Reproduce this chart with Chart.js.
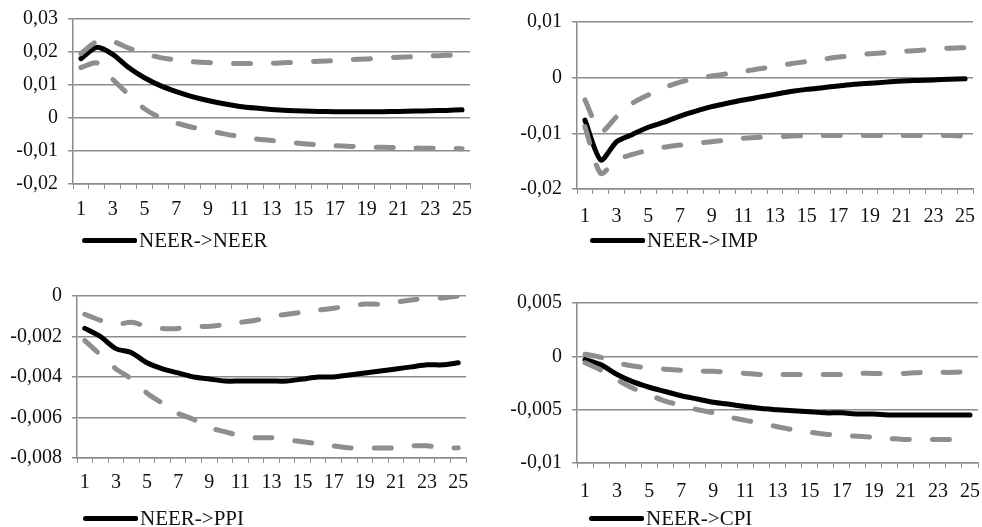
<!DOCTYPE html>
<html>
<head>
<meta charset="utf-8">
<script src="https://cdn.jsdelivr.net/npm/chart.js@4.4.1/dist/chart.umd.min.js"></script>
<style>
  html, body { margin: 0; padding: 0; background: #ffffff; }
  #wrap { position: relative; width: 982px; height: 527px; overflow: hidden; background: #fff; }
  canvas { position: absolute; }
  .leg { position: absolute; display: flex; align-items: center; height: 24px;
         font-family: 'Liberation Serif', 'Times New Roman', serif; font-size: 21px; color: #111; white-space: nowrap; }
  .leg .ln { width: 55px; height: 5px; background: #000; border-radius: 3px 2px 2px 3px; margin-right: 2px; }
</style>
</head>
<body>
<div id="wrap">
  <canvas id="c1" width="491" height="230" style="left:0px;top:0px"></canvas>
  <canvas id="c2" width="491" height="235" style="left:491px;top:0px"></canvas>
  <canvas id="c3" width="491" height="245" style="left:0px;top:262px"></canvas>
  <canvas id="c4" width="491" height="245" style="left:491px;top:262px"></canvas>
  <div class="leg" style="left:82px;top:228px"><div class="ln"></div><span id="l1"></span></div>
  <div class="leg" style="left:590px;top:228px"><div class="ln"></div><span id="l2"></span></div>
  <div class="leg" style="left:83px;top:506px"><div class="ln"></div><span id="l3"></span></div>
  <div class="leg" style="left:589px;top:506px"><div class="ln"></div><span id="l4"></span></div>
</div>
<script>
// ---------- data ----------
const categories = ['1','2','3','4','5','6','7','8','9','10','11','12','13','14','15','16','17','18','19','20','21','22','23','24','25'];

const seriesNames = ['NEER->NEER', 'NEER->IMP', 'NEER->PPI', 'NEER->CPI'];

// NEER -> NEER
const neerMain  = [0.0180,0.0214,0.0193,0.0153,0.0122,0.0098,0.0080,0.0065,0.0053,0.0043,0.0035,0.0030,0.0026,0.0023,0.0021,0.0020,0.0019,0.0019,0.0019,0.0019,0.0020,0.0021,0.0022,0.0023,0.0025];
const neerUpper = [0.0195,0.0232,0.0232,0.0212,0.0195,0.0183,0.0176,0.0171,0.0168,0.0166,0.0165,0.0165,0.0166,0.0168,0.0170,0.0172,0.0174,0.0177,0.0179,0.0182,0.0184,0.0186,0.0188,0.0190,0.0192];
const neerLower = [0.0153,0.0167,0.0117,0.0071,0.0028,0.0001,-0.0015,-0.0028,-0.0038,-0.0048,-0.0056,-0.0063,-0.0068,-0.0073,-0.0078,-0.0081,-0.0084,-0.0086,-0.0088,-0.0089,-0.0090,-0.0091,-0.0092,-0.0092,-0.0093];

// NEER -> IMP
const impMain  = [-0.0076,-0.0148,-0.0115,-0.0102,-0.0089,-0.0080,-0.0069,-0.0060,-0.0052,-0.0046,-0.0040,-0.0035,-0.0030,-0.0025,-0.0021,-0.0018,-0.0015,-0.0012,-0.0010,-0.0008,-0.0006,-0.0005,-0.0004,-0.0003,-0.0002];
const impUpper = [-0.0040,-0.0097,-0.0070,-0.0046,-0.0031,-0.0018,-0.0008,-0.0001,0.0003,0.0007,0.0011,0.0016,0.0020,0.0025,0.0029,0.0033,0.0037,0.0040,0.0043,0.0045,0.0047,0.0049,0.0051,0.0053,0.0054];
const impLower = [-0.0088,-0.0172,-0.0148,-0.0138,-0.0130,-0.0125,-0.0121,-0.0118,-0.0115,-0.0112,-0.0109,-0.0107,-0.0106,-0.0105,-0.0104,-0.0104,-0.0104,-0.0104,-0.0104,-0.0104,-0.0104,-0.0104,-0.0104,-0.0104,-0.0105];

// NEER -> PPI
const ppiMain  = [-0.0016,-0.0020,-0.0026,-0.0028,-0.0033,-0.0036,-0.0038,-0.0040,-0.0041,-0.0042,-0.0042,-0.0042,-0.0042,-0.0042,-0.0041,-0.0040,-0.0040,-0.0039,-0.0038,-0.0037,-0.0036,-0.0035,-0.0034,-0.0034,-0.0033];
const ppiUpper = [-0.0009,-0.0012,-0.0014,-0.0013,-0.0015,-0.0016,-0.0016,-0.0015,-0.0015,-0.0014,-0.0013,-0.0012,-0.0010,-0.0009,-0.0008,-0.0007,-0.0006,-0.0005,-0.0004,-0.0004,-0.0003,-0.0002,-0.0001,-0.0001,0.0000];
const ppiLower = [-0.0022,-0.0029,-0.0036,-0.0041,-0.0048,-0.0053,-0.0058,-0.0061,-0.0065,-0.0067,-0.0069,-0.0070,-0.0070,-0.0071,-0.0072,-0.0073,-0.0074,-0.0075,-0.0075,-0.0075,-0.0075,-0.0074,-0.0074,-0.0075,-0.0075];

// NEER -> CPI
const cpiMain  = [-0.0003,-0.0008,-0.0017,-0.0024,-0.0029,-0.0033,-0.0037,-0.0040,-0.0043,-0.0045,-0.0047,-0.0049,-0.0050,-0.0051,-0.0052,-0.0053,-0.0053,-0.0054,-0.0054,-0.0055,-0.0055,-0.0055,-0.0055,-0.0055,-0.0055];
const cpiUpper = [0.0002,-0.0001,-0.0006,-0.0009,-0.0011,-0.0012,-0.0013,-0.0014,-0.0014,-0.0015,-0.0016,-0.0017,-0.0017,-0.0017,-0.0017,-0.0017,-0.0017,-0.0016,-0.0016,-0.0016,-0.0016,-0.0015,-0.0015,-0.0015,-0.0014];
const cpiLower = [-0.0006,-0.0013,-0.0022,-0.0030,-0.0036,-0.0042,-0.0046,-0.0050,-0.0053,-0.0057,-0.0060,-0.0063,-0.0066,-0.0069,-0.0071,-0.0073,-0.0074,-0.0075,-0.0076,-0.0077,-0.0078,-0.0078,-0.0078,-0.0078,-0.0078];

// y tick values and labels
const neerTicks = [-0.02,-0.01,0,0.01,0.02,0.03];
const neerTickLabels = ['-0,02','-0,01','0','0,01','0,02','0,03'];
const impTicks = [-0.02,-0.01,0,0.01];
const impTickLabels = ['-0,02','-0,01','0','0,01'];
const ppiTicks = [-0.008,-0.006,-0.004,-0.002,0];
const ppiTickLabels = ['-0,008','-0,006','-0,004','-0,002','0'];
const cpiTicks = [-0.01,-0.005,0,0.005];
const cpiTickLabels = ['-0,01','-0,005','0','0,005'];

// ---------- chart building ----------
const GRID = '#8c8c8c';
const FONT = { family: "'Liberation Serif', 'Times New Roman', serif", size: 20 };

function makeChart(id, main, upper, lower, yTicks, yLabels, geo) {
  const ctx = document.getElementById(id);
  return new Chart(ctx, {
    type: 'line',
    data: {
      labels: categories,
      datasets: [
        { data: upper, borderColor: '#8e8e8e', borderWidth: 5, borderDash: [17, 23], borderCapStyle: 'round', pointRadius: 0, tension: 0.25, fill: false },
        { data: lower, borderColor: '#8e8e8e', borderWidth: 5, borderDash: [17, 23], borderCapStyle: 'round', pointRadius: 0, tension: 0.25, fill: false },
        { data: main, borderColor: '#000000', borderWidth: 5, borderCapStyle: 'round', borderJoinStyle: 'round', pointRadius: 0, tension: 0.25, fill: false }
      ]
    },
    options: {
      responsive: false,
      animation: false,
      devicePixelRatio: 1,
      layout: { padding: { left: 0, top: geo.top, right: geo.right, bottom: 0 } },
      plugins: { legend: { display: false }, tooltip: { enabled: false } },
      scales: {
        x: {
          type: 'category',
          offset: true,
          grid: { offset: true, drawOnChartArea: false, drawTicks: true, tickLength: 5, color: GRID, lineWidth: 1 },
          border: { display: true, color: GRID, width: 1.5 },
          ticks: {
            autoSkip: false, maxRotation: 0, padding: geo.xpad, color: '#111', font: FONT,
            callback: (v, i) => (i % 2 === 0 ? categories[i] : '')
          },
          afterFit: (s) => { s.height = geo.xh; s.paddingLeft = 0; s.paddingRight = 0; }
        },
        y: {
          min: yTicks[0],
          max: yTicks[yTicks.length - 1],
          grid: { drawTicks: true, tickLength: 5, color: GRID, lineWidth: 1.5 },
          border: { display: true, color: GRID, width: 1.5 },
          afterBuildTicks: (s) => { s.ticks = yTicks.map(v => ({ value: v })); },
          ticks: {
            padding: 10, color: '#111', font: FONT,
            callback: (v, i) => yLabels[i]
          },
          afterFit: (s) => { s.width = geo.yw; s.paddingTop = 0; s.paddingBottom = 0; }
        }
      }
    }
  });
}

makeChart('c1', neerMain, neerUpper, neerLower, neerTicks, neerTickLabels, { top: 19, right: 21, yw: 73, xh: 46, xpad: 9 });
makeChart('c2', impMain, impUpper, impLower, impTicks, impTickLabels, { top: 22, right: 9, yw: 86, xh: 46, xpad: 11 });
makeChart('c3', ppiMain, ppiUpper, ppiLower, ppiTicks, ppiTickLabels, { top: 34, right: 25, yw: 77, xh: 49, xpad: 8 });
makeChart('c4', cpiMain, cpiUpper, cpiLower, cpiTicks, cpiTickLabels, { top: 41, right: 4, yw: 86, xh: 44, xpad: 12 });

document.getElementById('l1').textContent = seriesNames[0];
document.getElementById('l2').textContent = seriesNames[1];
document.getElementById('l3').textContent = seriesNames[2];
document.getElementById('l4').textContent = seriesNames[3];
</script>
</body>
</html>
